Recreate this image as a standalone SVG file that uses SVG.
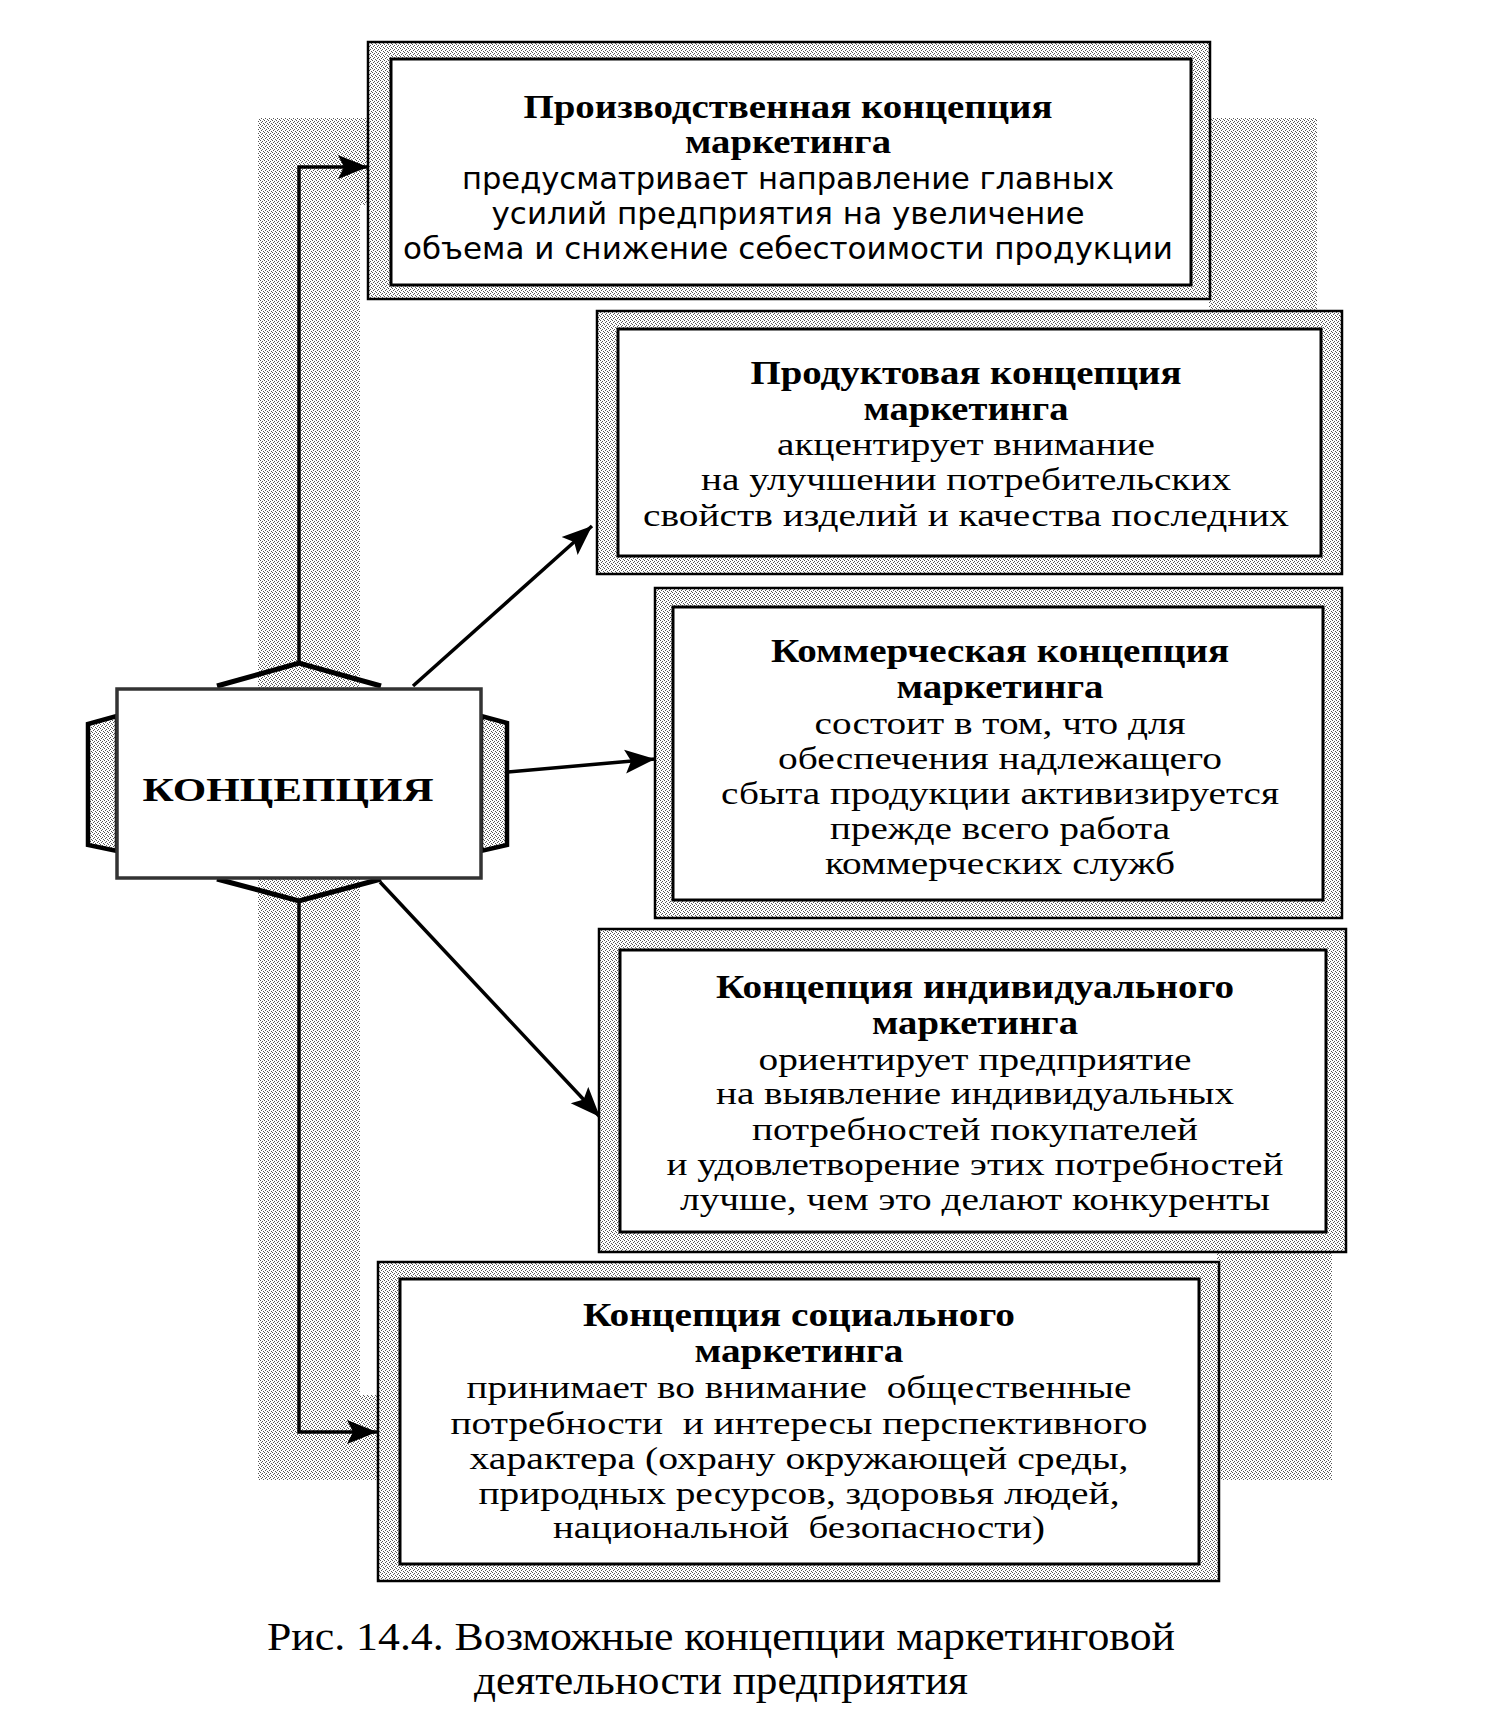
<svg xmlns="http://www.w3.org/2000/svg" width="1491" height="1721" viewBox="0 0 1491 1721">
<defs>
<pattern id="st" width="4" height="4" patternUnits="userSpaceOnUse">
<rect width="4" height="4" fill="#fff"/>
<rect x="0" y="0" width="1" height="1" fill="#555"/>
<rect x="2" y="1" width="1" height="1" fill="#555"/>
<rect x="1" y="2" width="1" height="1" fill="#555"/>
<rect x="3" y="3" width="1" height="1" fill="#555"/>
</pattern>
<marker id="ah" markerUnits="userSpaceOnUse" markerWidth="32" markerHeight="26" refX="30" refY="13" orient="auto">
<path d="M0,1 L30,13 L0,25 L6,13 z" fill="#000"/>
</marker>
<style>
.bg{fill:url(#st);stroke:none}
.outer{fill:url(#st);stroke:#000;stroke-width:2.5}
.inner{fill:#fff;stroke:#000;stroke-width:3}
.h{font-family:"Liberation Serif",serif;font-weight:bold;font-size:33px;text-anchor:middle;fill:#000}
.bs{font-family:"DejaVu Sans",sans-serif;font-size:30px;text-anchor:middle;fill:#000}
.bc{font-family:"Liberation Serif",serif;font-size:32px;text-anchor:middle;fill:#000}
.cap{font-family:"Liberation Serif",serif;font-size:40px;text-anchor:middle;fill:#000}
.ln{fill:none;stroke:#000;stroke-width:3.5}
.chev{fill:none;stroke:#000;stroke-width:5;stroke-linejoin:miter}
.tab{fill:url(#st);stroke:#000;stroke-width:4.5}
</style>
</defs>
<rect width="1491" height="1721" fill="#fff"/>
<g id="background">
<rect class="bg" x="258" y="118" width="102" height="1362"/>
<rect class="bg" x="258" y="118" width="1059" height="87"/>
<rect class="bg" x="1209" y="118" width="108" height="193"/>
<rect class="bg" x="258" y="1395" width="1074" height="85"/>
<rect class="bg" x="1217" y="1251" width="115" height="229"/>
</g>
<g id="connectors">
<path class="ln" d="M299,663 L299,167 L368,167" marker-end="url(#ah)"/>
<path class="ln" d="M299,901 L299,1432 L377,1432" marker-end="url(#ah)"/>
<path class="ln" d="M413,686 L592,526" marker-end="url(#ah)"/>
<path class="ln" d="M507,772 L655,759" marker-end="url(#ah)"/>
<path class="ln" d="M380,882 L600,1117" marker-end="url(#ah)"/>
</g>
<g id="node-center">
<polygon class="tab" points="117,716 88,724 88,845 117,851"/>
<polygon class="tab" points="481,716 507,723 507,845 481,851"/>
<polyline class="chev" points="217,686 299,663 381,686"/>
<polyline class="chev" points="217,879 299,901 381,879"/>
<rect x="117" y="689" width="364" height="189" fill="#fff" stroke="#333" stroke-width="3.5"/>
<text class="h" x="288" y="801" font-size="40" textLength="291" lengthAdjust="spacingAndGlyphs">КОНЦЕПЦИЯ</text>
</g>
<g id="node-1">
<rect class="outer" x="368" y="42" width="842" height="257"/>
<rect class="inner" x="391" y="59" width="800" height="226"/>
<text class="h" x="788" y="118" textLength="529" lengthAdjust="spacingAndGlyphs">Производственная концепция</text>
<text class="h" x="788" y="153" textLength="206" lengthAdjust="spacingAndGlyphs">маркетинга</text>
<text class="bs" x="788" y="189" textLength="652" lengthAdjust="spacingAndGlyphs">предусматривает направление главных</text>
<text class="bs" x="788" y="224" textLength="593" lengthAdjust="spacingAndGlyphs">усилий предприятия на увеличение</text>
<text class="bs" x="788" y="259" textLength="770" lengthAdjust="spacingAndGlyphs">объема и снижение себестоимости продукции</text>
</g>
<g id="node-2">
<rect class="outer" x="597" y="311" width="745" height="263"/>
<rect class="inner" x="618" y="329" width="703" height="227"/>
<text class="h" x="966" y="384" textLength="431" lengthAdjust="spacingAndGlyphs">Продуктовая концепция</text>
<text class="h" x="966" y="420" textLength="205" lengthAdjust="spacingAndGlyphs">маркетинга</text>
<text class="bc" x="966" y="455" textLength="378" lengthAdjust="spacingAndGlyphs">акцентирует внимание</text>
<text class="bc" x="966" y="490" textLength="530" lengthAdjust="spacingAndGlyphs">на улучшении потребительских</text>
<text class="bc" x="966" y="526" textLength="646" lengthAdjust="spacingAndGlyphs">свойств изделий и качества последних</text>
</g>
<g id="node-3">
<rect class="outer" x="655" y="588" width="687" height="330"/>
<rect class="inner" x="673" y="607" width="650" height="293"/>
<text class="h" x="1000" y="662" textLength="458" lengthAdjust="spacingAndGlyphs">Коммерческая концепция</text>
<text class="h" x="1000" y="698" textLength="207" lengthAdjust="spacingAndGlyphs">маркетинга</text>
<text class="bc" x="1000" y="734" textLength="371" lengthAdjust="spacingAndGlyphs">состоит в том, что для</text>
<text class="bc" x="1000" y="769" textLength="444" lengthAdjust="spacingAndGlyphs">обеспечения надлежащего</text>
<text class="bc" x="1000" y="804" textLength="558" lengthAdjust="spacingAndGlyphs">сбыта продукции активизируется</text>
<text class="bc" x="1000" y="839" textLength="340" lengthAdjust="spacingAndGlyphs">прежде всего работа</text>
<text class="bc" x="1000" y="874" textLength="350" lengthAdjust="spacingAndGlyphs">коммерческих служб</text>
</g>
<g id="node-4">
<rect class="outer" x="599" y="929" width="747" height="323"/>
<rect class="inner" x="620" y="950" width="706" height="282"/>
<text class="h" x="975" y="998" textLength="518" lengthAdjust="spacingAndGlyphs">Концепция индивидуального</text>
<text class="h" x="975" y="1034" textLength="206" lengthAdjust="spacingAndGlyphs">маркетинга</text>
<text class="bc" x="975" y="1070" textLength="433" lengthAdjust="spacingAndGlyphs">ориентирует предприятие</text>
<text class="bc" x="975" y="1104" textLength="518" lengthAdjust="spacingAndGlyphs">на выявление индивидуальных</text>
<text class="bc" x="975" y="1140" textLength="446" lengthAdjust="spacingAndGlyphs">потребностей покупателей</text>
<text class="bc" x="975" y="1175" textLength="617" lengthAdjust="spacingAndGlyphs">и удовлетворение этих потребностей</text>
<text class="bc" x="975" y="1210" textLength="590" lengthAdjust="spacingAndGlyphs">лучше, чем это делают конкуренты</text>
</g>
<g id="node-5">
<rect class="outer" x="378" y="1262" width="841" height="319"/>
<rect class="inner" x="400" y="1279" width="799" height="285"/>
<text class="h" x="799" y="1326" textLength="432" lengthAdjust="spacingAndGlyphs">Концепция социального</text>
<text class="h" x="799" y="1362" textLength="209" lengthAdjust="spacingAndGlyphs">маркетинга</text>
<text class="bc" x="799" y="1398" textLength="665" lengthAdjust="spacingAndGlyphs" xml:space="preserve">принимает во внимание  общественные</text>
<text class="bc" x="799" y="1434" textLength="697" lengthAdjust="spacingAndGlyphs" xml:space="preserve">потребности  и интересы перспективного</text>
<text class="bc" x="799" y="1469" textLength="659" lengthAdjust="spacingAndGlyphs">характера (охрану окружающей среды,</text>
<text class="bc" x="799" y="1504" textLength="641" lengthAdjust="spacingAndGlyphs">природных ресурсов, здоровья людей,</text>
<text class="bc" x="799" y="1538" textLength="492" lengthAdjust="spacingAndGlyphs" xml:space="preserve">национальной  безопасности)</text>
</g>
<g id="caption">
<text class="cap" x="721" y="1650" textLength="908" lengthAdjust="spacingAndGlyphs">Рис. 14.4. Возможные концепции маркетинговой</text>
<text class="cap" x="721" y="1694" textLength="494" lengthAdjust="spacingAndGlyphs">деятельности предприятия</text>
</g>
</svg>
